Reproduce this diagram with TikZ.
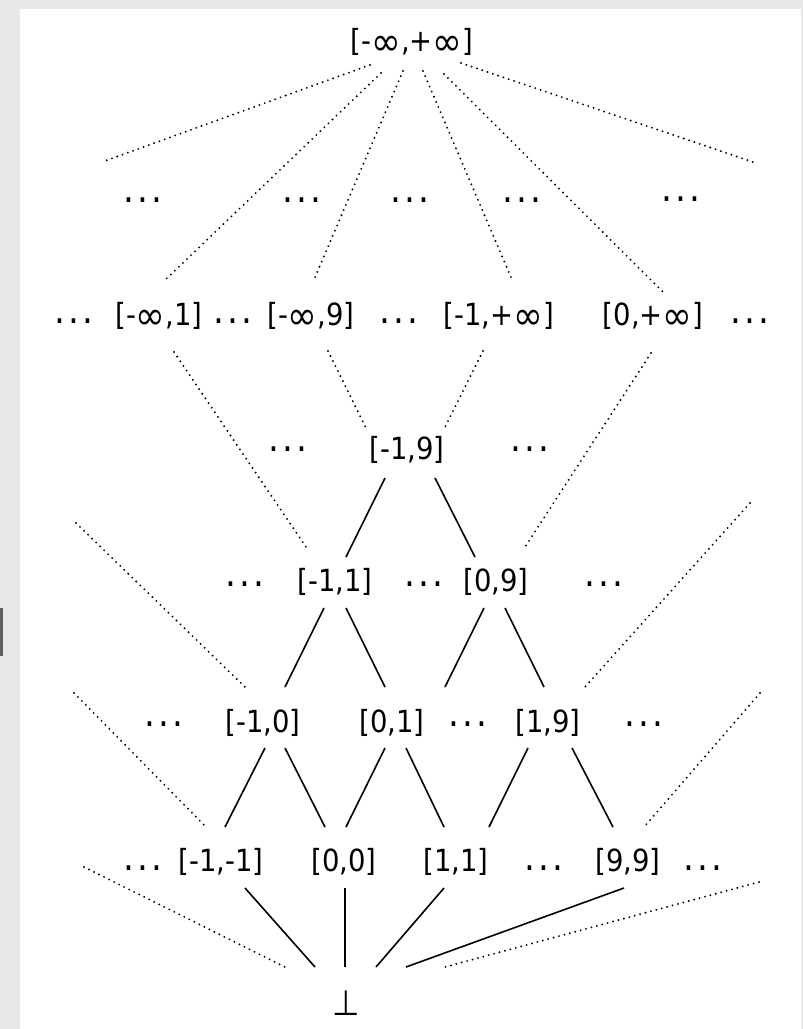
\documentclass[tikz,border=0pt]{standalone}
\usepackage{graphicx}
\usepackage{fontspec}
\setmainfont{DejaVu Sans}[FakeStretch=0.9]
\usetikzlibrary{calc}
\definecolor{bgray}{HTML}{E8E8E6}
\definecolor{barg}{HTML}{5E5E5E}
\newcommand{\infsym}{\raisebox{-0.15em}{\scalebox{1.3}{∞}}}
\newcommand{\onedot}{\scalebox{1.25}{.}}
\newcommand{\dotsym}{\onedot\kern3.2pt\onedot\kern3.2pt\onedot}
\newcommand{\botsym}{\scalebox{1.15}{⊥}}
\begin{document}
\begin{tikzpicture}[x=1pt,y=-1pt,
  lbl/.style={anchor=base,inner sep=0pt,font=\fontsize{30.5}{32}\selectfont},
  solidln/.style={line width=1.6pt},
  dotln/.style={line width=2.1pt,line cap=round,dash pattern=on 0pt off 5.6pt}]
\useasboundingbox (0,0) rectangle (803,1029);
\fill[bgray] (0,0) rectangle (803,1029);
\fill[white] (20,9) rectangle (801,1029);
\fill[barg] (0,608) rectangle (3,656);
% top
\node[lbl] (T) at (412,51) {[-\infsym,+\infsym]};
% row A
\node[lbl] (a1) at (143,202) {\dotsym};
\node[lbl] (a2) at (302,202) {\dotsym};
\node[lbl] (a3) at (410,202) {\dotsym};
\node[lbl] (a4) at (522,202) {\dotsym};
\node[lbl] (a5) at (681,201) {\dotsym};
% row B
\node[lbl] (b0) at (74,323) {\dotsym};
\node[lbl] (b1) at (159,325) {[-\infsym,1]};
\node[lbl] (bd1) at (233,323) {\dotsym};
\node[lbl] (b2) at (311,325) {[-\infsym,9]};
\node[lbl] (bd2) at (399,323) {\dotsym};
\node[lbl] (b3) at (499,325) {[-1,+\infsym]};
\node[lbl] (b4) at (653,325) {[0,+\infsym]};
\node[lbl] (bd3) at (750,323) {\dotsym};
% row C
\node[lbl] (cd1) at (288,451) {\dotsym};
\node[lbl] (c) at (407,459) {[-1,9]};
\node[lbl] (cd2) at (530,451) {\dotsym};
% row D
\node[lbl] (dd1) at (245,586) {\dotsym};
\node[lbl] (d1) at (335,591) {[-1,1]};
\node[lbl] (dd2) at (424,586) {\dotsym};
\node[lbl] (d2) at (496,591) {[0,9]};
\node[lbl] (dd3) at (604,586) {\dotsym};
% row E
\node[lbl] (ed1) at (164,726) {\dotsym};
\node[lbl] (e1) at (263,732) {[-1,0]};
\node[lbl] (e2) at (392,732) {[0,1]};
\node[lbl] (ed2) at (468,726) {\dotsym};
\node[lbl] (e3) at (548,732) {[1,9]};
\node[lbl] (ed3) at (644,726) {\dotsym};
% row F
\node[lbl] (fd1) at (143,870) {\dotsym};
\node[lbl] (f1) at (221,871) {[-1,-1]};
\node[lbl] (f2) at (344,871) {[0,0]};
\node[lbl] (f3) at (456,871) {[1,1]};
\node[lbl] (fd2) at (544,870) {\dotsym};
\node[lbl] (f4) at (628,871) {[9,9]};
\node[lbl] (fd3) at (703,870) {\dotsym};
% bottom
\node[lbl] (bot) at (346,1015) {\botsym};
% free ends
\coordinate (tl) at (102,162);
\coordinate (tr) at (753,162);
\coordinate (ld) at (76,523);
\coordinate (rd) at (750,503);
\coordinate (le) at (74,693);
\coordinate (re) at (760,693);
\coordinate (lf) at (84,867);
\coordinate (rf) at (759,882);
% top fan
\draw[dotln] ($(T.base)+(-42,14)$) -- (tl);
\draw[dotln] ($(T.base)+(-31,22)$) -- ($(b1.base)+(4,-43)$);
\draw[dotln] ($(T.base)+(-9,20)$) -- ($(b2.base)+(2,-43)$);
\draw[dotln] ($(T.base)+(11,20)$) -- ($(b3.base)+(14,-43)$);
\draw[dotln] ($(T.base)+(32,23)$) -- ($(b4.base)+(10,-33)$);
\draw[dotln] ($(T.base)+(49,12)$) -- (tr);
% B to C/D
\draw[dotln] ($(b1.base)+(15,27)$) -- ($(d1.base)+(-29,-44)$);
\draw[dotln] ($(b2.base)+(17,26)$) -- ($(c.base)+(-41,-31)$);
\draw[dotln] ($(b3.base)+(-16,26)$) -- ($(c.base)+(38,-32)$);
\draw[dotln] ($(b4.base)+(-2,28)$) -- ($(d2.base)+(29,-44)$);
% C to D
\draw[solidln] ($(c.base)+(-22,19)$) -- ($(d1.base)+(11,-34)$);
\draw[solidln] ($(c.base)+(28,19)$) -- ($(d2.base)+(-21,-34)$);
% free to E
\draw[dotln] (ld) -- ($(e1.base)+(-18,-45)$);
\draw[dotln] (rd) -- ($(e3.base)+(37,-45)$);
% D to E
\draw[solidln] ($(d1.base)+(-11,17)$) -- ($(e1.base)+(22,-45)$);
\draw[solidln] ($(d1.base)+(11,17)$) -- ($(e2.base)+(-7,-45)$);
\draw[solidln] ($(d2.base)+(-12,17)$) -- ($(e2.base)+(53,-45)$);
\draw[solidln] ($(d2.base)+(9,17)$) -- ($(e3.base)+(-4,-45)$);
% free to F
\draw[dotln] (le) -- ($(f1.base)+(-15,-44)$);
\draw[dotln] (re) -- ($(f4.base)+(16,-44)$);
% E to F
\draw[solidln] ($(e1.base)+(2,16)$) -- ($(f1.base)+(4,-44)$);
\draw[solidln] ($(e1.base)+(22,16)$) -- ($(f2.base)+(-19,-44)$);
\draw[solidln] ($(e2.base)+(-7,16)$) -- ($(f2.base)+(2,-44)$);
\draw[solidln] ($(e2.base)+(14,16)$) -- ($(f3.base)+(-12,-44)$);
\draw[solidln] ($(e3.base)+(-20,16)$) -- ($(f3.base)+(33,-44)$);
\draw[solidln] ($(e3.base)+(24,16)$) -- ($(f4.base)+(-15,-44)$);
% F to bottom
\draw[solidln] ($(f1.base)+(24,17)$) -- ($(bot.base)+(-31,-48)$);
\draw[solidln] ($(f2.base)+(1,17)$) -- ($(bot.base)+(-1,-48)$);
\draw[solidln] ($(f3.base)+(-12,17)$) -- ($(bot.base)+(30,-48)$);
\draw[solidln] ($(f4.base)+(-4,17)$) -- ($(bot.base)+(60,-48)$);
\draw[dotln] (lf) -- ($(bot.base)+(-61,-48)$);
\draw[dotln] (rf) -- ($(bot.base)+(99,-48)$);
\end{tikzpicture}
\end{document}
